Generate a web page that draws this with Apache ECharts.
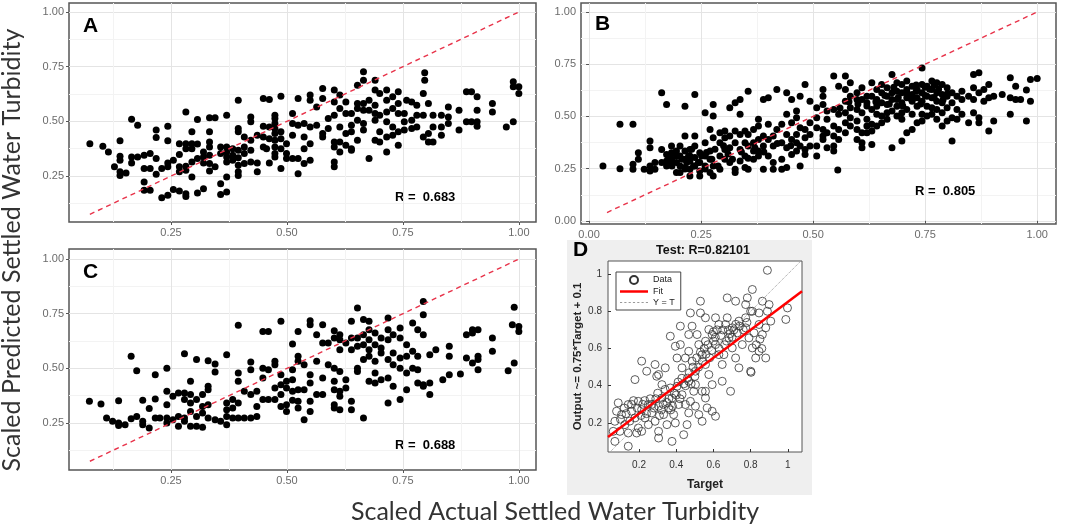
<!DOCTYPE html>
<html>
<head>
<meta charset="utf-8">
<script src="https://cdn.jsdelivr.net/npm/echarts@6/dist/echarts.min.js"></script>
<style>
html, body { margin: 0; padding: 0; background: #fff; }
#chart { width: 1065px; height: 530px; }
</style>
</head>
<body>
<div id="chart"></div>
<script>
// panel A (predicted vs actual)
const pointsA = [[0.075,0.398],[0.103,0.386],[0.115,0.36],[0.128,0.292],[0.14,0.411],[0.14,0.34],[0.14,0.322],[0.14,0.27],[0.14,0.253],[0.153,0.264],[0.165,0.51],[0.165,0.337],[0.165,0.31],[0.178,0.482],[0.178,0.337],[0.192,0.345],[0.192,0.284],[0.192,0.223],[0.192,0.185],[0.205,0.353],[0.205,0.284],[0.205,0.185],[0.218,0.46],[0.218,0.426],[0.218,0.33],[0.218,0.258],[0.23,0.284],[0.23,0.151],[0.243,0.478],[0.243,0.411],[0.243,0.31],[0.243,0.292],[0.243,0.162],[0.255,0.322],[0.255,0.188],[0.282,0.543],[0.268,0.398],[0.268,0.349],[0.268,0.292],[0.268,0.27],[0.268,0.182],[0.282,0.398],[0.282,0.375],[0.282,0.295],[0.282,0.276],[0.282,0.169],[0.282,0.157],[0.295,0.452],[0.295,0.398],[0.295,0.375],[0.295,0.314],[0.295,0.246],[0.307,0.508],[0.307,0.396],[0.307,0.33],[0.307,0.172],[0.32,0.36],[0.32,0.337],[0.32,0.31],[0.32,0.192],[0.333,0.517],[0.345,0.517],[0.333,0.452],[0.333,0.406],[0.333,0.383],[0.333,0.345],[0.333,0.307],[0.333,0.273],[0.345,0.292],[0.357,0.383],[0.357,0.353],[0.357,0.215],[0.357,0.166],[0.37,0.528],[0.37,0.383],[0.37,0.36],[0.37,0.337],[0.37,0.314],[0.37,0.246],[0.37,0.177],[0.383,0.375],[0.383,0.345],[0.383,0.322],[0.395,0.597],[0.395,0.467],[0.395,0.452],[0.395,0.368],[0.395,0.334],[0.395,0.299],[0.395,0.27],[0.395,0.253],[0.408,0.429],[0.408,0.383],[0.408,0.353],[0.408,0.307],[0.422,0.52],[0.422,0.498],[0.422,0.414],[0.422,0.368],[0.422,0.314],[0.436,0.437],[0.436,0.31],[0.436,0.27],[0.449,0.605],[0.449,0.478],[0.449,0.429],[0.449,0.383],[0.462,0.6],[0.462,0.474],[0.462,0.421],[0.462,0.31],[0.456,0.375],[0.474,0.528],[0.474,0.513],[0.474,0.49],[0.474,0.467],[0.474,0.444],[0.474,0.414],[0.474,0.383],[0.474,0.353],[0.474,0.337],[0.487,0.615],[0.487,0.452],[0.487,0.421],[0.487,0.375],[0.487,0.284],[0.499,0.398],[0.499,0.353],[0.499,0.33],[0.512,0.536],[0.512,0.49],[0.512,0.437],[0.512,0.33],[0.524,0.605],[0.524,0.482],[0.524,0.33],[0.524,0.261],[0.537,0.49],[0.537,0.429],[0.537,0.375],[0.537,0.307],[0.55,0.62],[0.55,0.597],[0.55,0.474],[0.55,0.398],[0.55,0.322],[0.564,0.566],[0.564,0.482],[0.577,0.65],[0.577,0.605],[0.577,0.444],[0.577,0.429],[0.589,0.513],[0.589,0.467],[0.602,0.643],[0.602,0.589],[0.602,0.528],[0.602,0.406],[0.602,0.383],[0.602,0.314],[0.602,0.292],[0.614,0.62],[0.614,0.559],[0.614,0.474],[0.614,0.406],[0.614,0.36],[0.627,0.589],[0.627,0.536],[0.627,0.444],[0.627,0.391],[0.639,0.536],[0.639,0.482],[0.639,0.452],[0.639,0.375],[0.639,0.368],[0.652,0.665],[0.652,0.582],[0.652,0.559],[0.652,0.505],[0.652,0.414],[0.665,0.727],[0.665,0.688],[0.665,0.582],[0.665,0.551],[0.665,0.49],[0.665,0.46],[0.677,0.597],[0.677,0.551],[0.677,0.33],[0.69,0.688],[0.69,0.643],[0.69,0.574],[0.69,0.536],[0.69,0.505],[0.69,0.414],[0.70,0.627],[0.70,0.528],[0.70,0.452],[0.70,0.406],[0.715,0.643],[0.715,0.597],[0.715,0.543],[0.715,0.498],[0.715,0.429],[0.715,0.36],[0.728,0.612],[0.728,0.559],[0.728,0.474],[0.728,0.437],[0.74,0.635],[0.74,0.582],[0.74,0.536],[0.74,0.452],[0.74,0.391],[0.753,0.536],[0.753,0.498],[0.753,0.46],[0.758,0.597],[0.769,0.589],[0.769,0.505],[0.769,0.467],[0.78,0.574],[0.78,0.528],[0.78,0.474],[0.794,0.627],[0.794,0.528],[0.794,0.429],[0.797,0.722],[0.797,0.688],[0.805,0.582],[0.805,0.444],[0.805,0.406],[0.815,0.528],[0.815,0.474],[0.815,0.406],[0.833,0.528],[0.833,0.474],[0.833,0.437],[0.848,0.566],[0.848,0.52],[0.848,0.49],[0.871,0.551],[0.871,0.46],[0.887,0.635],[0.898,0.635],[0.887,0.498],[0.898,0.498],[0.91,0.612],[0.91,0.551],[0.91,0.498],[0.91,0.478],[0.943,0.582],[0.943,0.543],[0.973,0.474],[0.988,0.681],[0.988,0.658],[0.988,0.498],[1.0,0.658],[1.0,0.627]];

// panel B
const pointsB = [[0.031,0.263],[0.069,0.462],[0.069,0.25],[0.098,0.462],[0.098,0.271],[0.098,0.247],[0.11,0.326],[0.11,0.295],[0.123,0.247],[0.136,0.382],[0.136,0.35],[0.136,0.263],[0.136,0.239],[0.147,0.279],[0.147,0.247],[0.162,0.613],[0.162,0.342],[0.162,0.279],[0.173,0.557],[0.173,0.318],[0.173,0.287],[0.173,0.263],[0.184,0.358],[0.184,0.326],[0.184,0.295],[0.184,0.271],[0.195,0.334],[0.195,0.31],[0.195,0.279],[0.195,0.231],[0.203,0.358],[0.203,0.31],[0.203,0.263],[0.203,0.231],[0.214,0.549],[0.214,0.406],[0.214,0.334],[0.214,0.295],[0.214,0.255],[0.225,0.342],[0.225,0.31],[0.225,0.287],[0.225,0.247],[0.225,0.215],[0.236,0.605],[0.236,0.406],[0.236,0.358],[0.236,0.303],[0.236,0.263],[0.247,0.326],[0.247,0.279],[0.247,0.239],[0.247,0.215],[0.259,0.518],[0.259,0.374],[0.259,0.31],[0.259,0.263],[0.27,0.438],[0.27,0.334],[0.27,0.295],[0.27,0.231],[0.277,0.557],[0.277,0.502],[0.277,0.398],[0.277,0.263],[0.277,0.215],[0.292,0.422],[0.292,0.374],[0.292,0.31],[0.292,0.247],[0.303,0.43],[0.303,0.398],[0.303,0.342],[0.303,0.295],[0.314,0.541],[0.314,0.406],[0.314,0.35],[0.314,0.279],[0.326,0.565],[0.326,0.43],[0.326,0.374],[0.326,0.247],[0.326,0.231],[0.337,0.581],[0.337,0.51],[0.337,0.414],[0.337,0.342],[0.337,0.287],[0.348,0.43],[0.348,0.374],[0.348,0.31],[0.348,0.255],[0.355,0.621],[0.355,0.414],[0.355,0.358],[0.355,0.247],[0.367,0.438],[0.367,0.374],[0.367,0.334],[0.367,0.295],[0.378,0.486],[0.378,0.454],[0.378,0.39],[0.378,0.334],[0.378,0.31],[0.389,0.581],[0.389,0.406],[0.389,0.358],[0.389,0.247],[0.40,0.589],[0.40,0.462],[0.40,0.39],[0.40,0.31],[0.411,0.406],[0.411,0.358],[0.411,0.279],[0.411,0.247],[0.419,0.629],[0.419,0.438],[0.43,0.462],[0.43,0.374],[0.43,0.295],[0.43,0.247],[0.441,0.613],[0.441,0.51],[0.441,0.414],[0.441,0.35],[0.441,0.255],[0.452,0.581],[0.452,0.47],[0.452,0.39],[0.452,0.318],[0.463,0.526],[0.463,0.494],[0.463,0.414],[0.463,0.374],[0.463,0.334],[0.471,0.597],[0.471,0.446],[0.471,0.358],[0.471,0.263],[0.482,0.653],[0.482,0.438],[0.482,0.398],[0.482,0.342],[0.482,0.318],[0.493,0.573],[0.493,0.47],[0.493,0.414],[0.493,0.358],[0.508,0.541],[0.508,0.494],[0.508,0.446],[0.508,0.358],[0.508,0.31],[0.522,0.629],[0.522,0.597],[0.522,0.557],[0.522,0.438],[0.522,0.406],[0.522,0.39],[0.531,0.526],[0.531,0.486],[0.531,0.422],[0.531,0.35],[0.546,0.693],[0.546,0.533],[0.546,0.454],[0.546,0.406],[0.546,0.358],[0.546,0.334],[0.555,0.243],[0.557,0.645],[0.557,0.51],[0.557,0.438],[0.557,0.39],[0.572,0.693],[0.572,0.629],[0.572,0.573],[0.572,0.518],[0.572,0.47],[0.572,0.422],[0.583,0.661],[0.583,0.597],[0.583,0.541],[0.583,0.494],[0.583,0.454],[0.598,0.613],[0.598,0.581],[0.598,0.533],[0.598,0.478],[0.598,0.438],[0.598,0.39],[0.609,0.637],[0.609,0.581],[0.609,0.518],[0.609,0.422],[0.609,0.374],[0.609,0.35],[0.62,0.597],[0.62,0.565],[0.62,0.486],[0.62,0.454],[0.62,0.422],[0.631,0.661],[0.631,0.597],[0.631,0.533],[0.631,0.462],[0.631,0.43],[0.631,0.366],[0.642,0.629],[0.642,0.581],[0.642,0.549],[0.642,0.51],[0.642,0.454],[0.653,0.653],[0.653,0.613],[0.653,0.565],[0.653,0.502],[0.653,0.47],[0.665,0.637],[0.665,0.597],[0.665,0.557],[0.665,0.518],[0.665,0.486],[0.676,0.701],[0.676,0.613],[0.676,0.581],[0.676,0.526],[0.676,0.35],[0.687,0.661],[0.687,0.621],[0.687,0.581],[0.687,0.549],[0.687,0.502],[0.698,0.653],[0.698,0.613],[0.698,0.565],[0.698,0.518],[0.698,0.486],[0.698,0.382],[0.709,0.669],[0.709,0.629],[0.709,0.589],[0.709,0.533],[0.709,0.422],[0.721,0.645],[0.721,0.605],[0.721,0.573],[0.721,0.51],[0.721,0.438],[0.732,0.629],[0.732,0.589],[0.732,0.549],[0.732,0.47],[0.743,0.732],[0.743,0.653],[0.743,0.613],[0.743,0.573],[0.743,0.51],[0.743,0.478],[0.754,0.645],[0.754,0.597],[0.754,0.549],[0.754,0.502],[0.765,0.669],[0.765,0.629],[0.765,0.589],[0.765,0.541],[0.765,0.51],[0.776,0.661],[0.776,0.613],[0.776,0.573],[0.776,0.533],[0.776,0.486],[0.788,0.653],[0.788,0.605],[0.788,0.565],[0.788,0.518],[0.788,0.454],[0.799,0.637],[0.799,0.597],[0.799,0.541],[0.799,0.478],[0.81,0.613],[0.81,0.565],[0.81,0.494],[0.81,0.382],[0.821,0.597],[0.821,0.533],[0.821,0.486],[0.832,0.621],[0.832,0.581],[0.832,0.51],[0.847,0.597],[0.847,0.47],[0.858,0.701],[0.858,0.637],[0.858,0.581],[0.858,0.518],[0.87,0.709],[0.87,0.613],[0.87,0.494],[0.87,0.47],[0.881,0.629],[0.881,0.573],[0.892,0.653],[0.892,0.589],[0.892,0.43],[0.903,0.597],[0.903,0.478],[0.922,0.605],[0.94,0.685],[0.94,0.589],[0.94,0.51],[0.952,0.645],[0.952,0.581],[0.963,0.581],[0.976,0.626],[0.976,0.478],[0.985,0.677],[0.985,0.573],[1.0,0.682],
	[0.177,0.295],[0.185,0.263],[0.192,0.327],[0.207,0.295],[0.214,0.248],[0.222,0.311],[0.229,0.343],[0.244,0.279],[0.251,0.311],[0.259,0.248],[0.274,0.295],[0.281,0.343],[0.233,0.263],[0.218,0.279],[0.262,0.327],[0.288,0.263],[0.3,0.36],[0.31,0.32],[0.32,0.295],[0.34,0.33],[0.355,0.3],[0.37,0.35],[0.39,0.33],[0.42,0.37],[0.45,0.36],
	[0.66,0.6],[0.67,0.56],[0.68,0.64],[0.69,0.59],[0.7,0.55],[0.71,0.61],[0.72,0.58],[0.73,0.62],[0.74,0.56],[0.75,0.6],[0.76,0.63],[0.77,0.59],[0.78,0.63],[0.79,0.58],[0.8,0.61],[0.73,0.65],[0.75,0.64],[0.77,0.65],[0.62,0.55],[0.64,0.57],[0.6,0.56],[0.58,0.57],[0.56,0.54]];

// panel C
const pointsC = [[0.074,0.349],[0.099,0.337],[0.111,0.273],[0.124,0.258],[0.137,0.352],[0.137,0.25],[0.137,0.239],[0.151,0.242],[0.164,0.27],[0.164,0.555],[0.176,0.28],[0.176,0.489],[0.189,0.354],[0.189,0.258],[0.189,0.242],[0.203,0.316],[0.203,0.227],[0.216,0.36],[0.216,0.471],[0.216,0.273],[0.226,0.273],[0.241,0.501],[0.241,0.395],[0.241,0.334],[0.241,0.273],[0.241,0.25],[0.254,0.372],[0.254,0.265],[0.266,0.387],[0.266,0.28],[0.266,0.235],[0.279,0.567],[0.279,0.387],[0.279,0.357],[0.279,0.273],[0.279,0.258],[0.292,0.441],[0.292,0.38],[0.292,0.342],[0.292,0.303],[0.292,0.235],[0.305,0.54],[0.305,0.357],[0.305,0.28],[0.305,0.235],[0.318,0.38],[0.318,0.326],[0.318,0.296],[0.318,0.23],[0.33,0.535],[0.33,0.418],[0.33,0.402],[0.33,0.334],[0.33,0.273],[0.345,0.52],[0.345,0.483],[0.345,0.265],[0.357,0.258],[0.37,0.562],[0.37,0.342],[0.37,0.311],[0.37,0.28],[0.37,0.242],[0.383,0.357],[0.383,0.319],[0.383,0.273],[0.395,0.697],[0.395,0.479],[0.395,0.441],[0.395,0.342],[0.395,0.273],[0.408,0.395],[0.408,0.273],[0.422,0.529],[0.422,0.494],[0.422,0.38],[0.422,0.273],[0.435,0.395],[0.435,0.326],[0.435,0.28],[0.448,0.669],[0.448,0.501],[0.448,0.456],[0.448,0.357],[0.46,0.669],[0.46,0.494],[0.46,0.357],[0.474,0.532],[0.474,0.517],[0.474,0.41],[0.474,0.357],[0.487,0.715],[0.487,0.471],[0.487,0.425],[0.487,0.38],[0.487,0.326],[0.499,0.441],[0.499,0.41],[0.499,0.334],[0.499,0.303],[0.512,0.611],[0.512,0.494],[0.512,0.448],[0.512,0.395],[0.512,0.354],[0.524,0.669],[0.524,0.555],[0.524,0.532],[0.524,0.402],[0.524,0.349],[0.524,0.319],[0.537,0.517],[0.537,0.402],[0.537,0.265],[0.55,0.718],[0.55,0.7],[0.55,0.471],[0.55,0.433],[0.55,0.349],[0.55,0.303],[0.564,0.654],[0.564,0.532],[0.564,0.38],[0.577,0.7],[0.577,0.616],[0.577,0.456],[0.577,0.38],[0.589,0.517],[0.589,0.616],[0.602,0.672],[0.602,0.639],[0.602,0.501],[0.602,0.441],[0.602,0.402],[0.602,0.334],[0.602,0.319],[0.614,0.654],[0.614,0.631],[0.614,0.585],[0.614,0.486],[0.614,0.395],[0.614,0.372],[0.614,0.311],[0.627,0.616],[0.627,0.448],[0.627,0.41],[0.639,0.715],[0.639,0.639],[0.639,0.585],[0.639,0.349],[0.639,0.311],[0.652,0.776],[0.652,0.639],[0.652,0.601],[0.652,0.501],[0.652,0.486],[0.665,0.723],[0.665,0.654],[0.665,0.608],[0.665,0.54],[0.665,0.273],[0.677,0.715],[0.677,0.677],[0.677,0.631],[0.677,0.585],[0.677,0.555],[0.677,0.441],[0.69,0.662],[0.69,0.608],[0.69,0.532],[0.69,0.479],[0.69,0.433],[0.703,0.639],[0.703,0.593],[0.703,0.57],[0.703,0.448],[0.718,0.73],[0.718,0.677],[0.718,0.631],[0.718,0.54],[0.718,0.456],[0.718,0.342],[0.729,0.654],[0.729,0.57],[0.729,0.517],[0.729,0.418],[0.744,0.685],[0.744,0.639],[0.744,0.547],[0.744,0.501],[0.744,0.357],[0.758,0.608],[0.758,0.555],[0.758,0.479],[0.758,0.402],[0.771,0.708],[0.771,0.578],[0.771,0.501],[0.782,0.677],[0.782,0.555],[0.782,0.494],[0.782,0.433],[0.794,0.806],[0.794,0.745],[0.794,0.654],[0.794,0.425],[0.794,0.418],[0.808,0.562],[0.808,0.433],[0.808,0.38],[0.821,0.585],[0.836,0.448],[0.85,0.601],[0.85,0.555],[0.85,0.471],[0.874,0.474],[0.887,0.654],[0.887,0.547],[0.9,0.677],[0.9,0.662],[0.9,0.524],[0.912,0.677],[0.912,0.555],[0.912,0.54],[0.912,0.494],[0.943,0.639],[0.943,0.578],[0.977,0.489],[0.986,0.7],[0.99,0.524],[0.99,0.779],[1.0,0.692],[1.0,0.669]];

// panel D (MATLAB regression plot)
const pointsD = [[0.89,1.02],[0.809,0.917],[0.863,0.854],[0.899,0.836],[0.89,0.8],[0.845,0.791],[0.998,0.818],[0.989,0.756],[0.674,0.872],[0.719,0.854],[0.782,0.872],[0.773,0.836],[0.809,0.8],[0.53,0.854],[0.476,0.791],[0.53,0.791],[0.485,0.72],[0.422,0.72],[0.368,0.666],[0.395,0.612],[0.214,0.532],[0.286,0.514],[0.178,0.433],[0.241,0.478],[0.295,0.451],[0.088,0.308],[0.079,0.263],[0.07,0.209],[0.106,0.245],[0.124,0.191],[0.061,0.155],[0.097,0.155],[0.142,0.299],[0.16,0.263],[0.178,0.227],[0.196,0.316],[0.214,0.272],[0.232,0.227],[0.196,0.173],[0.25,0.191],[0.142,0.146],[0.187,0.146],[0.25,0.299],[0.268,0.254],[0.286,0.209],[0.305,0.155],[0.305,0.29],[0.323,0.334],[0.332,0.245],[0.35,0.191],[0.359,0.281],[0.377,0.334],[0.386,0.245],[0.395,0.2],[0.413,0.299],[0.368,0.388],[0.404,0.397],[0.431,0.352],[0.449,0.299],[0.467,0.254],[0.476,0.316],[0.494,0.37],[0.503,0.29],[0.521,0.245],[0.539,0.209],[0.557,0.334],[0.566,0.281],[0.593,0.263],[0.611,0.236],[0.539,0.37],[0.458,0.191],[0.44,0.137],[0.377,0.101],[0.305,0.119],[0.07,0.101],[0.142,0.075],[0.214,0.155],[0.431,0.496],[0.449,0.549],[0.467,0.585],[0.485,0.532],[0.503,0.478],[0.521,0.621],[0.539,0.567],[0.557,0.514],[0.575,0.46],[0.593,0.675],[0.611,0.621],[0.629,0.567],[0.647,0.514],[0.665,0.729],[0.683,0.657],[0.701,0.603],[0.719,0.549],[0.737,0.496],[0.629,0.729],[0.575,0.702],[0.557,0.639],[0.512,0.675],[0.773,0.711],[0.791,0.657],[0.809,0.603],[0.827,0.549],[0.845,0.729],[0.863,0.675],[0.773,0.765],[0.737,0.747],[0.701,0.711],[0.647,0.424],[0.692,0.37],[0.593,0.406],[0.557,0.37],[0.656,0.567],[0.8,0.478],[0.802,0.472],[0.845,0.585],[0.881,0.549],[0.611,0.765],[0.557,0.765],[0.467,0.675],[0.422,0.621],[0.404,0.549],[0.341,0.496],[0.305,0.46],[0.323,0.406],[0.467,0.424],[0.503,0.406],[0.755,0.621],[0.728,0.684],[0.674,0.765],[0.818,0.684],[0.881,0.711],[0.908,0.747],[0.12,0.28],[0.15,0.21],[0.17,0.32],[0.22,0.3],[0.24,0.25],[0.26,0.33],[0.28,0.28],[0.3,0.36],[0.31,0.24],[0.33,0.3],[0.34,0.38],[0.36,0.33],[0.37,0.27],[0.39,0.36],[0.41,0.42],[0.43,0.44],[0.45,0.4],[0.47,0.47],[0.49,0.5],[0.51,0.55],[0.53,0.58],[0.55,0.6],[0.57,0.62],[0.6,0.64],[0.62,0.7],[0.64,0.67],[0.66,0.62],[0.68,0.7],[0.7,0.66],[0.72,0.73],[0.6,0.69],[0.58,0.55],[0.63,0.6],[0.5,0.45],
	[0.1,0.22],[0.13,0.25],[0.16,0.3],[0.19,0.28],[0.21,0.24],[0.23,0.32],[0.27,0.3],[0.29,0.33],[0.32,0.27],[0.35,0.31],[0.38,0.29],[0.4,0.35],[0.42,0.33],[0.44,0.41],[0.46,0.44],[0.48,0.41],[0.52,0.5],[0.54,0.53],[0.56,0.57],[0.59,0.59],[0.61,0.66],[0.65,0.7],[0.67,0.64],[0.69,0.68],[0.71,0.7],[0.74,0.72],[0.76,0.7],[0.78,0.74],[0.8,0.8],[0.83,0.62],[0.85,0.65],[0.86,0.6]];

// reference lines
const diagA = [[0.075,0.075],[1.0,1.0]];
const diagB = [[0.04,0.04],[1.0,1.0]];
const diagC = [[0.075,0.075],[1.0,1.0]];
const fitD = [[0.033,0.125],[1.076,0.907]];
const identityD = [[0.033,0.033],[1.076,1.076]];

// tick values
const ggTicks = [0.25, 0.5, 0.75, 1.0];
const ggTicksB = [0, 0.25, 0.5, 0.75, 1.0];
const ggMinor = [0.125, 0.375, 0.625, 0.875];
const matTicks = [0.2, 0.4, 0.6, 0.8, 1];

const rTexts = ['R =  0.683', 'R =  0.805', 'R =  0.688'];

var myChart = echarts.init(document.getElementById('chart'));

const labelFont = 'Liberation Sans, Arial, sans-serif';

function ggAxis(gridIndex, min, max, ticks, minor, isX) {
	// major axis with labels + minor axis for light grid lines
	return [
		{
			type: 'value', gridIndex: gridIndex, min: min, max: max,
			position: isX ? 'bottom' : 'left',
			axisLine: { show: false },
			axisTick: { show: true, customValues: ticks, length: 3, lineStyle: { color: '#555' } },
			axisLabel: {
				customValues: ticks, color: '#6b6b6b', fontSize: 11, fontFamily: labelFont,
				margin: 5, formatter: (v) => v.toFixed(2)
			},
			splitLine: { show: true, lineStyle: { color: '#e4e4e4', width: 1 } }
		},
		{
			type: 'value', gridIndex: gridIndex, min: min, max: max,
			position: isX ? 'top' : 'right',
			axisLine: { show: false },
			axisTick: { show: false, customValues: minor },
			axisLabel: { show: false, customValues: minor },
			splitLine: { show: true, lineStyle: { color: '#f3f3f3', width: 1 } }
		}
	];
}

const xAxes = [].concat(
	ggAxis(0, 0.030, 1.037, ggTicks, ggMinor, true),
	ggAxis(1, -0.018, 1.042, ggTicksB, ggMinor, true),
	ggAxis(2, 0.030, 1.037, ggTicks, ggMinor, true),
	[{
		type: 'value', gridIndex: 3, min: 0.033, max: 1.076,
		axisLine: { show: false },
		axisTick: { show: true, inside: true, length: 3, customValues: matTicks, lineStyle: { color: '#333' } },
		axisLabel: { customValues: matTicks, color: '#333', fontSize: 10, fontFamily: labelFont, margin: 8, formatter: (v) => String(v) },
		splitLine: { show: false },
		name: 'Target', nameLocation: 'middle', nameGap: 27,
		nameTextStyle: { fontWeight: 'bold', fontSize: 12, color: '#222', fontFamily: labelFont }
	}]
);
const yAxes = [].concat(
	ggAxis(0, 0.040, 1.041, ggTicks, ggMinor, false),
	ggAxis(1, -0.015, 1.043, ggTicksB, ggMinor, false),
	ggAxis(2, 0.035, 1.046, ggTicks, ggMinor, false),
	[{
		type: 'value', gridIndex: 3, min: 0.044, max: 1.07,
		axisLine: { show: false },
		axisTick: { show: true, inside: true, length: 3, customValues: matTicks, lineStyle: { color: '#333' } },
		axisLabel: { customValues: matTicks, color: '#333', fontSize: 10, fontFamily: labelFont, margin: 6, formatter: (v) => String(v) },
		splitLine: { show: false },
		name: 'Output ~= 0.75*Target + 0.1', nameLocation: 'middle', nameGap: 22,
		nameTextStyle: { fontWeight: 'bold', fontSize: 11.5, color: '#222', fontFamily: labelFont }
	}]
);

function dots(name, data, xi, yi, size) {
	return {
		name: name, type: 'scatter', xAxisIndex: xi, yAxisIndex: yi,
		data: data, symbolSize: size, itemStyle: { color: '#000', opacity: 1 }, z: 3
	};
}
function diag(name, data, xi, yi) {
	return {
		name: name, type: 'line', xAxisIndex: xi, yAxisIndex: yi, data: data,
		symbol: 'none', z: 4,
		lineStyle: { color: '#e8334a', width: 1.4, type: [5, 4] }
	};
}

var option = {
	animation: false,
	grid: [
		{ left: 69, top: 3, width: 467, height: 219, show: true, borderColor: '#555', borderWidth: 1.5, backgroundColor: '#fff' },
		{ left: 581, top: 3, width: 475, height: 221, show: true, borderColor: '#555', borderWidth: 1.5, backgroundColor: '#fff' },
		{ left: 69, top: 249, width: 467, height: 221, show: true, borderColor: '#555', borderWidth: 1.5, backgroundColor: '#fff' },
		{ left: 608, top: 261, width: 194, height: 191, show: true, borderColor: '#555', borderWidth: 1, backgroundColor: '#fff' }
	],
	xAxis: xAxes,
	yAxis: yAxes,
	legend: {
		data: [
			{ name: 'Data', icon: 'circle' },
			{ name: 'Fit', icon: 'path://M0,0 L28,0 L28,2.5 L0,2.5 Z' },
			{ name: 'Y = T', icon: 'path://M0,0h2v1h-2z M4,0h2v1h-2z M8,0h2v1h-2z M12,0h2v1h-2z M16,0h2v1h-2z M20,0h2v1h-2z M24,0h2v1h-2z' }
		],
		left: 616, top: 272,
		orient: 'vertical',
		itemGap: 2, itemWidth: 28, itemHeight: 8,
		padding: [3, 6, 3, 4],
		backgroundColor: '#fff', borderColor: '#444', borderWidth: 1,
		textStyle: { fontSize: 9, color: '#222', fontFamily: labelFont }
	},
	graphic: [
		// panel D background
		{ type: 'rect', z: -10, shape: { x: 567, y: 240, width: 245, height: 255 }, style: { fill: '#efefef' } },
		{ type: 'text', left: 83, top: 16, style: { text: 'A', font: 'bold 21px Liberation Sans', fill: '#000' } },
		{ type: 'text', left: 595, top: 14, style: { text: 'B', font: 'bold 21px Liberation Sans', fill: '#000' } },
		{ type: 'text', left: 83, top: 262, style: { text: 'C', font: 'bold 21px Liberation Sans', fill: '#000' } },
		{ type: 'text', left: 573, top: 240, style: { text: 'D', font: 'bold 21px Liberation Sans', fill: '#000' } },
		{ type: 'text', left: 395, top: 191, style: { text: rTexts[0], font: 'bold 13px Liberation Sans', fill: '#000' } },
		{ type: 'text', left: 915, top: 185, style: { text: rTexts[1], font: 'bold 13px Liberation Sans', fill: '#000' } },
		{ type: 'text', left: 395, top: 439, style: { text: rTexts[2], font: 'bold 13px Liberation Sans', fill: '#000' } },
		{ type: 'text', x: 703, y: 251, style: { text: 'Test: R=0.82101', font: 'bold 12.5px Liberation Sans', fill: '#111', textAlign: 'center', textVerticalAlign: 'middle' } },
		{ type: 'text', x: 12, y: 250, rotation: Math.PI / 2, style: { text: 'Scaled Predicted Settled Water Turbidity', font: '25px Lato', fill: '#333', textAlign: 'center', textVerticalAlign: 'middle' } },
		{ type: 'text', x: 555, y: 512, style: { text: 'Scaled Actual Settled Water Turbidity', font: '25px Lato', fill: '#333', textAlign: 'center', textVerticalAlign: 'middle' } }
	],
	series: [
		dots('A points', pointsA, 0, 0, 7),
		diag('A y=x', diagA, 0, 0),
		dots('B points', pointsB, 2, 2, 7),
		diag('B y=x', diagB, 2, 2),
		dots('C points', pointsC, 4, 4, 7),
		diag('C y=x', diagC, 4, 4),
		{
			name: 'Data', type: 'scatter', xAxisIndex: 6, yAxisIndex: 6, data: pointsD,
			symbol: 'circle', symbolSize: 8,
			itemStyle: { color: 'rgba(0,0,0,0)', borderColor: '#333', borderWidth: 0.8, opacity: 1 }
		},
		{
			name: 'Fit', type: 'line', xAxisIndex: 6, yAxisIndex: 6, data: fitD,
			symbol: 'none', z: 5, lineStyle: { color: '#f00', width: 2.5 }, itemStyle: { color: '#f00' }
		},
		{
			name: 'Y = T', type: 'line', xAxisIndex: 6, yAxisIndex: 6, data: identityD,
			symbol: 'none', z: 4, lineStyle: { color: '#999', width: 1, type: 'dotted' }, itemStyle: { color: '#999' }
		}
	]
};

myChart.setOption(option);
</script>
</body>
</html>
